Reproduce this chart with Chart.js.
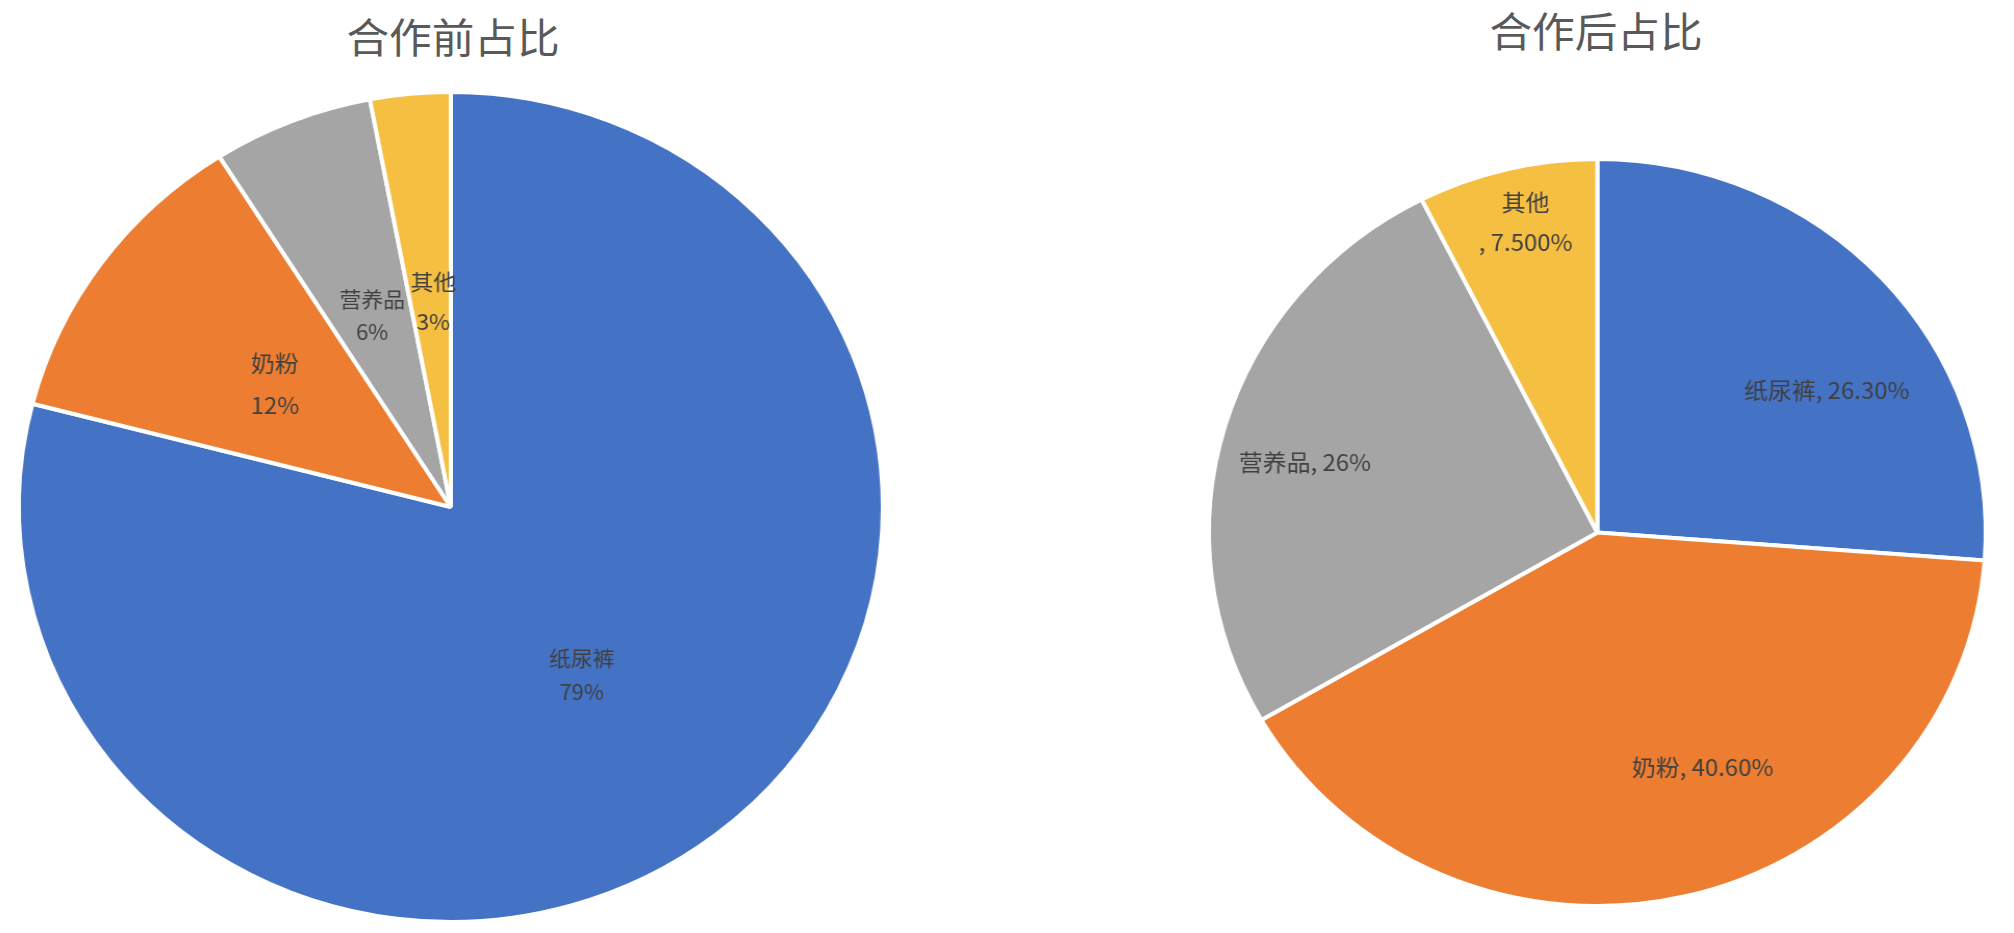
<!DOCTYPE html>
<html lang="zh">
<head>
<meta charset="utf-8">
<script src="https://cdn.jsdelivr.net/npm/chart.js@4/dist/chart.umd.min.js"></script>
<style>
    body { margin: 0; background: #fff; width: 2014px; height: 933px; overflow: hidden; position: relative; font-family: "Noto Sans CJK SC", sans-serif; }
    .title { position: absolute; font-size: 41px; color: #595959; transform: translate(-50%, -50%) scaleX(1.04); white-space: nowrap; line-height: 1; }
    .box { position: absolute; transform-origin: 0 0; }
</style>
</head>
<body>
<div class="title" style="left: 453px; top: 35px;">合作前占比</div>
<div class="title" style="left: 1596px; top: 29px;">合作后占比</div>
<div class="box" style="left: -2px; top: 70px; transform: scaleX(1.041);"><canvas id="before" width="870" height="863"></canvas></div>
<div class="box" style="left: 1160px; top: 120px; transform: scaleX(1.04);"><canvas id="after" width="840" height="813"></canvas></div>

<script>
    const categories = ['纸尿裤', '奶粉', '营养品', '其他'];
    const beforeShare = [79, 12, 6, 3];
    const afterShare = [26.3, 40.6, 26, 7.5];
    const afterDecimals = [2, 2, 0, 3];
    const sliceColors = ['#4472C4', '#ED7D31', '#A5A5A5', '#F5BF42'];

    // draws the text of each slice, placed from the arc's own angles and radius
    function sliceLabels(cfg) {
        return {
            id: 'sliceLabels',
            afterDatasetsDraw(chart) {
                const ctx = chart.ctx;
                const arcs = chart.getDatasetMeta(0).data;
                ctx.save();
                ctx.textAlign = 'center';
                ctx.textBaseline = 'middle';
                ctx.fillStyle = '#404040';
                arcs.forEach(function(arc, i) {
                    const p = arc.getProps(['x', 'y', 'startAngle', 'endAngle', 'outerRadius'], true);
                    const mid = (p.startAngle + p.endAngle) / 2 + cfg.shift[i] * Math.PI / 180;
                    const r = p.outerRadius * cfg.radius[i];
                    const cx = p.x + Math.cos(mid) * r;
                    const cy = p.y + Math.sin(mid) * r;
                    const lines = cfg.text(i);
                    ctx.font = cfg.size[i] + 'px "Noto Sans CJK SC"';
                    lines.forEach(function(t, k) {
                        ctx.fillText(t, cx, cy + (k - (lines.length - 1) / 2) * cfg.lineHeight[i]);
                    });
                });
                ctx.restore();
            }
        };
    }

    function pieConfig(values, padding, labels) {
        return {
            type: 'pie',
            data: {
                labels: categories,
                datasets: [{
                    data: values,
                    backgroundColor: sliceColors,
                    borderColor: '#ffffff',
                    borderWidth: 4
                }]
            },
            options: {
                responsive: false,
                animation: false,
                layout: {padding: padding},
                plugins: {
                    legend: {display: false},
                    tooltip: {enabled: false}
                }
            },
            plugins: [sliceLabels(labels)]
        };
    }

    new Chart(document.getElementById('before'), pieConfig(beforeShare,
        {left: 18, right: 18, top: 20, bottom: 9},
        {
            radius: [0.506, 0.503, 0.495, 0.496],
            shift: [1, 0, 0, 0.7],
            size: [21, 23, 21, 22],
            lineHeight: [34, 42, 33, 40],
            text: function(i) { return [categories[i], beforeShare[i] + '%']; }
        }));

    new Chart(document.getElementById('after'), pieConfig(afterShare,
        {left: 45, right: 44, top: 37, bottom: 25},
        {
            radius: [0.703, 0.685, 0.776, 0.85],
            shift: [10, -10.4, -2.5, 0.9],
            size: [23, 23, 23, 23],
            lineHeight: [30, 30, 30, 40],
            text: function(i) {
                const pct = afterShare[i].toFixed(afterDecimals[i]) + '%';
                return i === 3 ? [categories[i], ', ' + pct] : [categories[i] + ', ' + pct];
            }
        }));
</script>
</body>
</html>
